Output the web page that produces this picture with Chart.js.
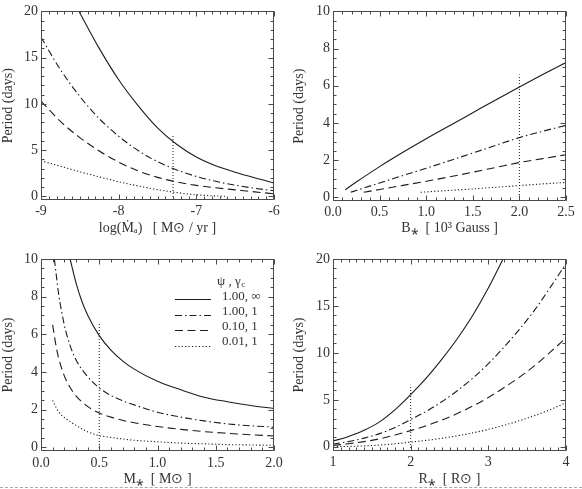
<!DOCTYPE html>
<html><head><meta charset="utf-8">
<script src="https://cdn.jsdelivr.net/npm/chart.js@4/dist/chart.umd.min.js"></script>
<style>
html,body{margin:0;padding:0;background:#fff;width:582px;height:489px;overflow:hidden;}
.pane{position:absolute;}
#rule{position:absolute;left:0;top:487px;width:582px;height:0;border-top:1px dashed #a8a8a8;}
</style></head><body>
<div class="pane" style="left:0;top:0;"><canvas id="cA" width="290" height="240"></canvas></div>
<div class="pane" style="left:290px;top:0;"><canvas id="cB" width="292" height="240"></canvas></div>
<div class="pane" style="left:0;top:240px;"><canvas id="cC" width="290" height="249"></canvas></div>
<div class="pane" style="left:290px;top:240px;"><canvas id="cD" width="292" height="249"></canvas></div>
<div id="rule"></div>
<script>
// ---------- Panel A: Period vs log(Mdot) ----------
const aSolidX   = [-8.51,-8.25,-8.0,-7.75,-7.5,-7.25,-7.0,-6.75,-6.5,-6.25,-6.0];
const aSolidY   = [20.0,16.0,12.6,9.8,7.4,5.6,4.25,3.3,2.6,2.0,1.45];
const aX        = [-9.0,-8.75,-8.5,-8.25,-8.0,-7.75,-7.5,-7.25,-7.0,-6.75,-6.5,-6.25,-6.0];
const aDashDotY = [17.2,13.7,10.8,8.4,6.5,4.95,3.75,2.85,2.15,1.62,1.2,0.87,0.6];
const aDashedY  = [10.3,8.1,6.35,4.9,3.7,2.75,2.05,1.55,1.18,0.92,0.7,0.48,0.27];
const aDottedX  = [-9.0,-8.75,-8.5,-8.25,-8.0,-7.75,-7.5,-7.25,-7.0,-6.75,-6.63];
const aDottedY  = [3.85,3.25,2.65,2.1,1.58,1.12,0.72,0.4,0.16,0.04,0.0];
const aXTicks = [-9,-8,-7,-6];
const aYTicks = [0,5,10,15,20];
const aMark = -7.3;

// ---------- Panel B: Period vs B* ----------
const bSolidX   = [0.13,0.25,0.5,0.75,1.0,1.25,1.5,1.75,2.0,2.25,2.5];
const bSolidY   = [0.4,0.82,1.65,2.42,3.15,3.85,4.55,5.25,5.93,6.6,7.25];
const bDashDotX = [0.19,0.25,0.5,0.75,1.0,1.25,1.5,1.75,2.0,2.25,2.5];
const bDashDotY = [0.27,0.37,0.77,1.17,1.56,1.97,2.38,2.8,3.21,3.55,3.87];
const bDashedX  = [0.33,0.5,0.75,1.0,1.25,1.5,1.75,2.0,2.25,2.5];
const bDashedY  = [0.27,0.42,0.64,0.86,1.1,1.35,1.61,1.87,2.08,2.29];
const bDottedX  = [0.94,1.25,1.5,1.75,2.0,2.25,2.5];
const bDottedY  = [0.27,0.37,0.45,0.54,0.63,0.72,0.8];
const bXTicks = [0,0.5,1.0,1.5,2.0,2.5];
const bYTicks = [0,2,4,6,8,10];
const bMark = 2.0;

// ---------- Panel C: Period vs M* ----------
const cSolidX   = [0.25,0.3,0.35,0.4,0.5,0.6,0.7,0.8,1.0,1.2,1.4,1.6,1.8,2.0];
const cSolidY   = [10.0,8.75,7.77,7.03,5.93,5.16,4.59,4.15,3.5,3.05,2.66,2.42,2.22,2.06];
const cDashDotX = [0.115,0.13,0.15,0.2,0.25,0.3,0.4,0.5,0.6,0.7,0.8,1.0,1.2,1.4,1.6,1.8,2.0];
const cDashDotY = [10.0,9.2,8.2,6.5,5.4,4.65,3.75,3.15,2.75,2.47,2.25,1.86,1.6,1.4,1.24,1.14,1.07];
const cX        = [0.1,0.13,0.15,0.2,0.25,0.3,0.4,0.5,0.6,0.7,0.8,1.0,1.2,1.4,1.6,1.8,2.0];
const cDashedY  = [6.5,5.35,4.77,3.79,3.17,2.73,2.17,1.82,1.6,1.43,1.3,1.1,0.95,0.83,0.74,0.66,0.6];
const cDottedY  = [2.49,2.1,1.9,1.58,1.36,1.16,0.82,0.62,0.52,0.44,0.37,0.29,0.22,0.18,0.14,0.12,0.1];
const cXTicks = [0,0.5,1.0,1.5,2.0];
const cYTicks = [0,2,4,6,8,10];
const cMark = 0.5;

// ---------- Panel D: Period vs R* ----------
const dSolidX   = [1.0,1.2,1.4,1.6,1.8,2.0,2.2,2.4,2.6,2.8,3.0,3.19];
const dSolidY   = [0.6,1.1,1.75,2.65,3.95,5.55,7.3,9.3,11.5,14.0,16.9,20.0];
const dX        = [1.0,1.2,1.4,1.6,1.8,2.0,2.2,2.4,2.6,2.8,3.0,3.2,3.4,3.6,3.8,4.0];
const dDashDotY = [0.3,0.55,0.92,1.4,2.05,2.9,3.77,4.79,5.97,7.31,8.85,10.6,12.5,14.6,17.0,19.5];
const dDashedY  = [0.15,0.32,0.55,0.85,1.25,1.72,2.24,2.84,3.54,4.34,5.25,6.29,7.41,8.67,10.1,11.6];
const dDottedX  = [1.05,1.2,1.4,1.6,1.8,2.0,2.2,2.4,2.6,2.8,3.0,3.2,3.4,3.6,3.8,4.0];
const dDottedY  = [0.02,0.04,0.09,0.18,0.32,0.5,0.68,0.9,1.17,1.48,1.85,2.28,2.78,3.33,3.97,4.69];
const dXTicks = [1,2,3,4];
const dYTicks = [0,5,10,15,20];
const dMark = 2.0;

const markTop = 6.6;
const legendHeader = 'ψ , γ';
const legendLabels = ['1.00, ∞','1.00, 1','0.10, 1','0.01, 1'];

// ---------- styling ----------
const INK = '#1c1c1c';
const AXIS = '#4a4a4a';
const TXT = '#333';
const FONT = "'Liberation Serif', 'Times New Roman', Times, serif";
const DASHES = [[], [7,3,1.5,3], [8,4.5], [1.2,2.2]];

function series(xs, ys, dash, w) {
  return {
    data: xs.map((x,i)=>({x:x, y:ys[i]})),
    borderColor: INK, borderWidth: w || 1.1, borderDash: dash,
    pointRadius: 0, fill: false, cubicInterpolationMode: 'monotone'
  };
}
function markLine(x, yLo) {
  return {
    data: [{x:x,y:yLo},{x:x,y:markTop}],
    borderColor: INK, borderWidth: 1, borderDash: [1,2], pointRadius: 0, fill: false
  };
}

const frameTicks = {
  id: 'frameTicks',
  afterDatasetsDraw(chart, args, o) {
    const {ctx, chartArea: a, scales: {x, y}} = chart;
    ctx.save();
    ctx.strokeStyle = AXIS; ctx.lineWidth = 1;
    const L = Math.round(a.left)+0.5, R = Math.round(a.right)-0.5;
    const T = Math.round(a.top)+0.5, B = Math.round(a.bottom)-0.5;
    ctx.beginPath();
    ctx.rect(L, T, R-L, B-T);
    const maj = 5, mnr = 3;
    function xTick(v, len) {
      const p = Math.round(x.getPixelForValue(v)) + 0.5;
      ctx.moveTo(p, B); ctx.lineTo(p, B-len);
      ctx.moveTo(p, T); ctx.lineTo(p, T+len);
    }
    function yTick(v, len) {
      const p = Math.round(y.getPixelForValue(v)) + 0.5;
      ctx.moveTo(L, p); ctx.lineTo(L+len, p);
      ctx.moveTo(R, p); ctx.lineTo(R-len, p);
    }
    const xs = o.xMinor, ys = o.yMinor;
    for (let k = Math.ceil(x.min/xs - 1e-6); k*xs <= x.max + 1e-6; k++) xTick(k*xs, mnr);
    for (let k = Math.ceil(y.min/ys - 1e-6); k*ys <= y.max + 1e-6; k++) yTick(k*ys, mnr);
    o.xMajor.forEach(v => xTick(v, maj));
    o.yMajor.forEach(v => yTick(v, maj));
    ctx.stroke();
    ctx.restore();
  }
};

const legendDraw = {
  id: 'legendDraw',
  afterDatasetsDraw(chart, args, o) {
    if (!o.show) return;
    const ctx = chart.ctx;
    ctx.save();
    ctx.fillStyle = TXT;
    ctx.font = "13px " + FONT;
    ctx.textBaseline = 'middle';
    ctx.fillText(legendHeader, 217, 42);
    const hw = ctx.measureText(legendHeader).width;
    ctx.font = "9px " + FONT;
    ctx.fillText('c', 217 + hw + 0.5, 45);
    ctx.font = "13px " + FONT;
    legendLabels.forEach((t, i) => {
      const ly = Math.round(59 + i*15.7) + 0.5;
      ctx.strokeStyle = INK; ctx.lineWidth = 1;
      ctx.setLineDash(DASHES[i]);
      ctx.beginPath(); ctx.moveTo(175, ly); ctx.lineTo(211, ly); ctx.stroke();
      ctx.fillText(t, 222, 57 + i*15);
    });
    ctx.restore();
  }
};

function makeChart(id, c) {
  const font = {family: FONT, size: 14, lineHeight: 1.2};
  return new Chart(document.getElementById(id), {
    type: 'line',
    data: {datasets: c.datasets},
    options: {
      responsive: false, animation: false, devicePixelRatio: 1,
      layout: {padding: {left: 0, top: c.padTop, right: c.padRight, bottom: 0}},
      plugins: {
        legend: {display: false}, tooltip: {enabled: false},
        frameTicks: {xMajor: c.xTicks, yMajor: c.yTicks, xMinor: c.xMinor, yMinor: c.yMinor},
        legendDraw: {show: !!c.legend}
      },
      scales: {
        x: {
          type: 'linear', min: c.xMin, max: c.xMax,
          afterFit: s => { s.height = c.xAxisH; },
          afterBuildTicks: s => { s.ticks = c.xTicks.map(v => ({value: v})); },
          ticks: {font: font, color: TXT, padding: c.xPad, maxRotation: 0, autoSkip: false,
                  callback: v => c.xFmt(v)},
          grid: {display: false, drawTicks: false}, border: {display: false},
          title: {display: true, text: c.xTitle, font: font, color: TXT, padding: {top: 0, bottom: c.titlePadB}}
        },
        y: {
          type: 'linear', min: c.yMin, max: c.yMax,
          afterFit: s => { s.width = c.yAxisW; },
          afterBuildTicks: s => { s.ticks = c.yTicks.map(v => ({value: v})); },
          ticks: {font: font, color: TXT, padding: 3, autoSkip: false, callback: v => String(v)},
          grid: {display: false, drawTicks: false}, border: {display: false},
          title: {display: true, text: 'Period (days)', font: font, color: TXT, padding: {top: c.yTitlePad, bottom: 0}}
        }
      }
    },
    plugins: [frameTicks, legendDraw]
  });
}

const int = v => String(v);
const one = v => v.toFixed(1);

makeChart('cA', {
  datasets: [
    series(aSolidX, aSolidY, DASHES[0]),
    series(aX, aDashDotY, DASHES[1]),
    series(aX, aDashedY, DASHES[2]),
    series(aDottedX, aDottedY, DASHES[3]),
    markLine(aMark, -0.4)
  ],
  xMin: -9, xMax: -6, yMin: -0.4, yMax: 20,
  xTicks: aXTicks, yTicks: aYTicks, xMinor: 0.1, yMinor: 1,
  xFmt: int, xTitle: 'log(Ṁₐ)   [ M⊙ / yr ]',
  padTop: 10, padRight: 16, xAxisH: 40, yAxisW: 41, xPad: 3, titlePadB: 3, yTitlePad: 0
});

makeChart('cB', {
  datasets: [
    series(bSolidX, bSolidY, DASHES[0]),
    series(bDashDotX, bDashDotY, DASHES[1]),
    series(bDashedX, bDashedY, DASHES[2]),
    series(bDottedX, bDottedY, DASHES[3]),
    markLine(bMark, -0.2)
  ],
  xMin: 0, xMax: 2.5, yMin: -0.2, yMax: 10,
  xTicks: bXTicks, yTicks: bYTicks, xMinor: 0.1, yMinor: 0.5,
  xFmt: one, xTitle: 'B⁎  [ 10³ Gauss ]',
  padTop: 10, padRight: 16, xAxisH: 39, yAxisW: 43, xPad: 3, titlePadB: 3, yTitlePad: 1
});

makeChart('cC', {
  datasets: [
    series(cSolidX, cSolidY, DASHES[0]),
    series(cDashDotX, cDashDotY, DASHES[1]),
    series(cX, cDashedY, DASHES[2]),
    series(cX, cDottedY, DASHES[3]),
    markLine(cMark, -0.2)
  ],
  xMin: 0, xMax: 2, yMin: -0.2, yMax: 10,
  xTicks: cXTicks, yTicks: cYTicks, xMinor: 0.1, yMinor: 0.5,
  xFmt: one, xTitle: 'M⁎  [ M⊙ ]', legend: true,
  padTop: 19, padRight: 16, xAxisH: 38, yAxisW: 41, xPad: 4, titlePadB: 1, yTitlePad: 0
});

makeChart('cD', {
  datasets: [
    series(dSolidX, dSolidY, DASHES[0]),
    series(dX, dDashDotY, DASHES[1]),
    series(dX, dDashedY, DASHES[2]),
    series(dDottedX, dDottedY, DASHES[3]),
    markLine(dMark, -0.45)
  ],
  xMin: 1, xMax: 4, yMin: -0.45, yMax: 20,
  xTicks: dXTicks, yTicks: dYTicks, xMinor: 0.1, yMinor: 1,
  xFmt: int, xTitle: 'R⁎  [ R⊙ ]',
  padTop: 19, padRight: 16, xAxisH: 38, yAxisW: 43, xPad: 3, titlePadB: 1, yTitlePad: 1
});
</script>
</body></html>
